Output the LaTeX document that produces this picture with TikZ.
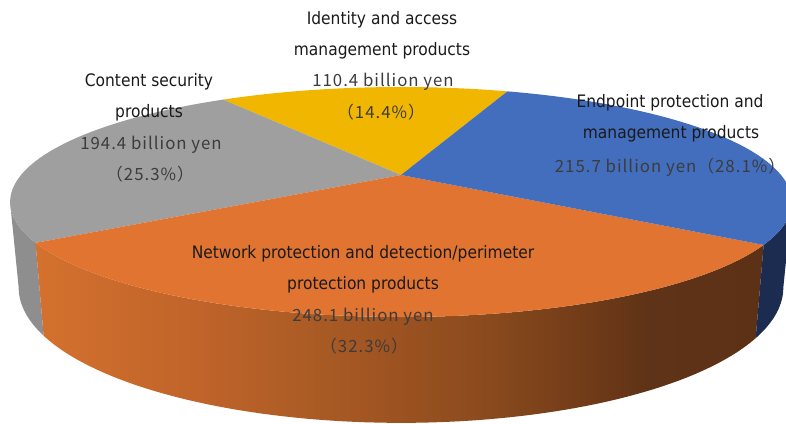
\documentclass[tikz,border=0pt]{standalone}
\usepackage{fontspec}
\newfontfamily\lblfont[FakeStretch=0.9]{DejaVu Sans}
\newfontfamily\numfont[LetterSpace=6]{Noto Sans CJK JP}

% slice colours (top faces)
\definecolor{yellowtop}{HTML}{F1B600}
\definecolor{bluetop}{HTML}{426EBD}
\definecolor{orangetop}{HTML}{E07430}
\definecolor{graytop}{HTML}{9F9F9F}
% side walls
\definecolor{graywall}{HTML}{8E8E8E}
\definecolor{bluewall}{HTML}{1C2C50}
\definecolor{ow0}{HTML}{D4712E}
\definecolor{ow1}{HTML}{C0642A}
\definecolor{ow2}{HTML}{A85A24}
\definecolor{ow3}{HTML}{9C5221}
\definecolor{ow4}{HTML}{8A4A1D}
\definecolor{ow5}{HTML}{703B18}
\definecolor{ow6}{HTML}{5F3317}
\definecolor{ow7}{HTML}{5C3116}
% text
\definecolor{labelink}{HTML}{1A1A1A}
\definecolor{numink}{HTML}{3C3C3C}

% left-to-right darkening of the orange wall
\pgfdeclarehorizontalshading{owall}{100bp}{color(0bp)=(ow0); color(25bp)=(ow0);
  color(36bp)=(ow1); color(45bp)=(ow2); color(50bp)=(ow3); color(56bp)=(ow4);
  color(63bp)=(ow5); color(67bp)=(ow6); color(75bp)=(ow7); color(100bp)=(ow7)}

\begin{document}
\begin{tikzpicture}[x=1pt,y=-1pt,
  declare function={
    topx(\t)=401+380*cos(\t)/(1+0.2348*sin(\t));
    topy(\t)=(175-67.57*sin(\t))/(1+0.2348*sin(\t));
    botx(\t)=401+0.978*380*cos(\t)/(1+0.2348*sin(\t));
    boty(\t)=(256-67.57*sin(\t))/(1+0.2348*sin(\t));
  },
  lbl/.style={inner sep=0pt, anchor=base, text=labelink,
    font=\lblfont\fontsize{17.2}{20}\selectfont},
  num/.style={inner sep=0pt, anchor=base, text=numink,
    font=\numfont\fontsize{16.8}{20}\selectfont}]

\useasboundingbox (0,0) rectangle (786,423);
\clip (0,0) rectangle (786,423);

\coordinate (c) at (401,175);

% side walls, each closed along the silhouette line of the disc
\fill[graywall] plot[domain=193.6:213,samples=30] ({topx(\x)},{topy(\x)})
  -- plot[domain=213:193.6,samples=30] ({botx(\x)},{boty(\x)}) -- cycle;
\shade[shading=owall] plot[domain=213:326,samples=80] ({topx(\x)},{topy(\x)})
  -- plot[domain=326:213,samples=80] ({botx(\x)},{boty(\x)}) -- cycle;
\fill[bluewall] plot[domain=326:346.4,samples=30] ({topx(\x)},{topy(\x)})
  -- plot[domain=346.4:326,samples=30] ({botx(\x)},{boty(\x)}) -- cycle;

% top faces
\fill[yellowtop] (c) -- plot[domain=70:124,samples=40] ({topx(\x)},{topy(\x)}) -- cycle;
\fill[graytop] (c) -- plot[domain=124:213,samples=60] ({topx(\x)},{topy(\x)}) -- cycle;
\fill[orangetop] (c) -- plot[domain=213:326,samples=80] ({topx(\x)},{topy(\x)}) -- cycle;
\fill[bluetop] (c) -- plot[domain=326:430,samples=80] ({topx(\x)},{topy(\x)}) -- cycle;

% labels
\node[lbl] (id1) at (382,24.5) {Identity and access};
\node[lbl] (id2) at (382,55.5) {management products};
\node[num] (id3) at (383,86.5) {110.4 billion yen};
\node[num] (id4) at (381,118) {（14.4\%）};

\node[lbl] (cs1) at (149,86.5) {Content security};
\node[lbl] (cs2) at (149,117.5) {products};
\node[num] (cs3) at (151,149) {194.4 billion yen};
\node[num] (cs4) at (150,180) {（25.3\%）};

\node[lbl] (ep1) at (670,107) {Endpoint protection and};
\node[lbl] (ep2) at (671,138.5) {management products};
\node[num] (ep3) at (670,172) {215.7 billion yen（28.1\%）};

\node[lbl] (nw1) at (363,258.5) {Network protection and detection/perimeter};
\node[lbl] (nw2) at (363,289.5) {protection products};
\node[num] (nw3) at (363,321) {248.1 billion yen};
\node[num] (nw4) at (364,352) {（32.3\%）};
\end{tikzpicture}
\end{document}
